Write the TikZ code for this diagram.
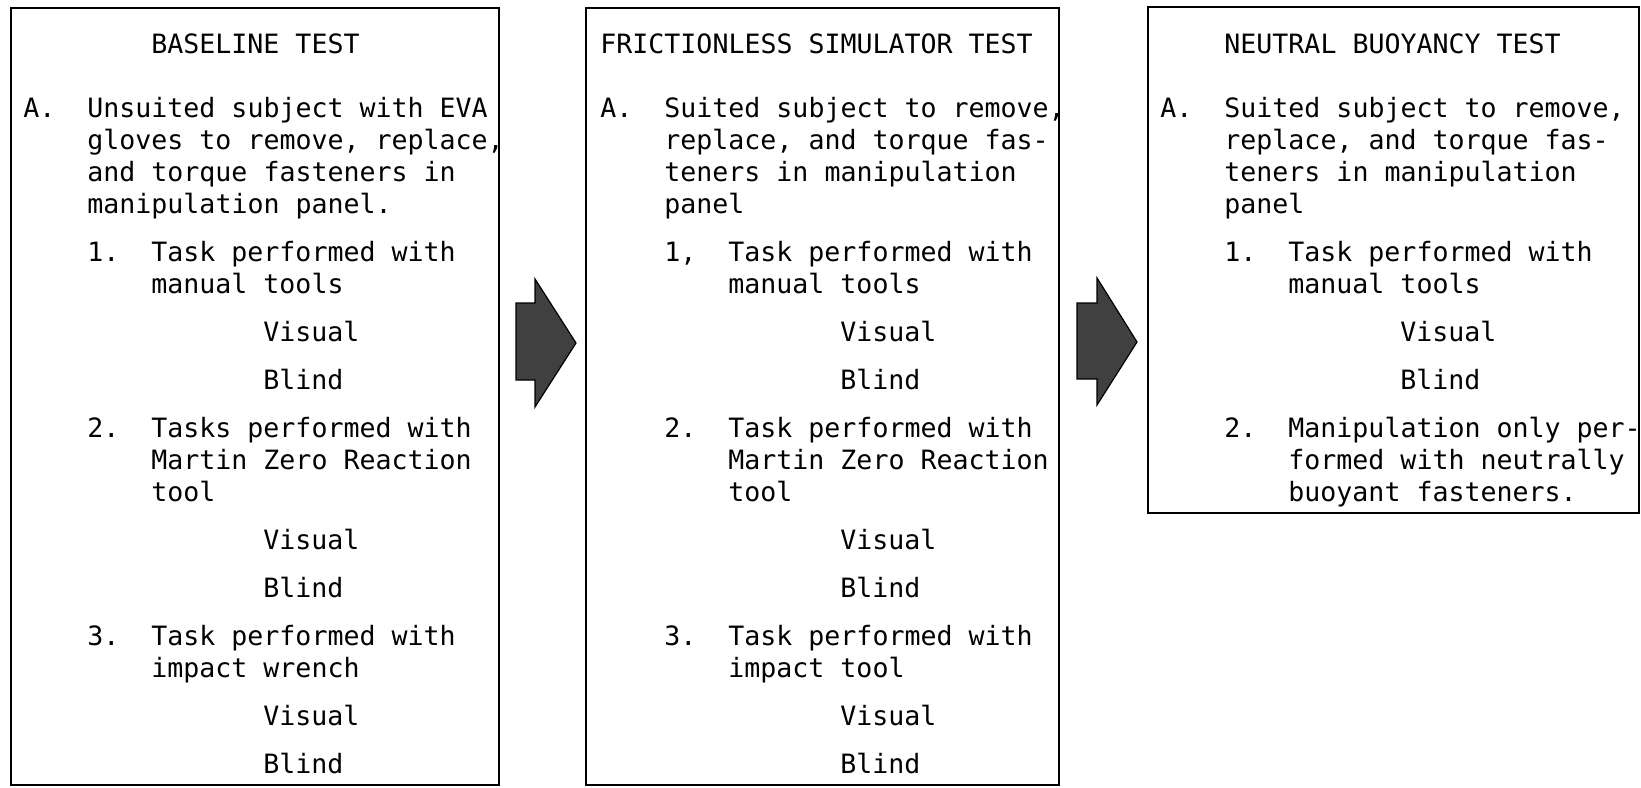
\documentclass[tikz,border=0pt]{standalone}
\usepackage{fontspec}
\setmonofont{DejaVu Sans Mono}
\tikzset{
  panel/.style={line width=1.1pt},
  txt/.style={anchor=base west, inner sep=0pt, text width=240pt,
    execute at begin node={\spaceskip=8pt\relax\xspaceskip=8pt\relax}},
  flow/.style={fill=black!75, draw=black, line width=0.6pt, line join=miter},
}
\begin{document}
\begin{tikzpicture}[x=0.5pt,y=-0.5pt,font=\ttfamily\fontsize{13.3}{16}\selectfont]
    \useasboundingbox (0,0) rectangle (1641,787);

    % baseline test
    \draw[panel] (11,8) rectangle (499,785);
    \node[txt] (bTitle) at (151,53) {BASELINE TEST};
    \node[txt] (bA) at (23,117) {A.};
    \node[txt] (bAtext) at (87,117) {Unsuited subject with EVA\\gloves to remove, replace,\\and torque fasteners in\\manipulation panel.};
    \node[txt] (bOne) at (87,261) {1.};
    \node[txt] (bOnetext) at (151,261) {Task performed with\\manual tools};
    \node[txt] (bVisOne) at (263,341) {Visual};
    \node[txt] (bBliOne) at (263,389) {Blind};
    \node[txt] (bTwo) at (87,437) {2.};
    \node[txt] (bTwotext) at (151,437) {Tasks performed with\\Martin Zero Reaction\\tool};
    \node[txt] (bVisTwo) at (263,549) {Visual};
    \node[txt] (bBliTwo) at (263,597) {Blind};
    \node[txt] (bThree) at (87,645) {3.};
    \node[txt] (bThreetext) at (151,645) {Task performed with\\impact wrench};
    \node[txt] (bVisThree) at (263,725) {Visual};
    \node[txt] (bBliThree) at (263,773) {Blind};

    % frictionless simulator test
    \draw[panel] (586,8) rectangle (1059,785);
    \node[txt] (fTitle) at (600,53) {FRICTIONLESS SIMULATOR TEST};
    \node[txt] (fA) at (600,117) {A.};
    \node[txt] (fAtext) at (664,117) {Suited subject to remove,\\replace, and torque fas-\\teners in manipulation\\panel};
    \node[txt] (fOne) at (664,261) {1,};
    \node[txt] (fOnetext) at (728,261) {Task performed with\\manual tools};
    \node[txt] (fVisOne) at (840,341) {Visual};
    \node[txt] (fBliOne) at (840,389) {Blind};
    \node[txt] (fTwo) at (664,437) {2.};
    \node[txt] (fTwotext) at (728,437) {Task performed with\\Martin Zero Reaction\\tool};
    \node[txt] (fVisTwo) at (840,549) {Visual};
    \node[txt] (fBliTwo) at (840,597) {Blind};
    \node[txt] (fThree) at (664,645) {3.};
    \node[txt] (fThreetext) at (728,645) {Task performed with\\impact tool};
    \node[txt] (fVisThree) at (840,725) {Visual};
    \node[txt] (fBliThree) at (840,773) {Blind};

    % neutral buoyancy test
    \draw[panel] (1148,7) rectangle (1639,513);
    \node[txt] (nTitle) at (1224,53) {NEUTRAL BUOYANCY TEST};
    \node[txt] (nA) at (1160,117) {A.};
    \node[txt] (nAtext) at (1224,117) {Suited subject to remove,\\replace, and torque fas-\\teners in manipulation\\panel};
    \node[txt] (nOne) at (1224,261) {1.};
    \node[txt] (nOnetext) at (1288,261) {Task performed with\\manual tools};
    \node[txt] (nVisOne) at (1400,341) {Visual};
    \node[txt] (nBliOne) at (1400,389) {Blind};
    \node[txt] (nTwo) at (1224,437) {2.};
    \node[txt] (nTwotext) at (1288,437) {Manipulation only per-\\formed with neutrally\\buoyant fasteners.};

    % arrows between the tests
    \coordinate (arrA) at (516,303);
    \coordinate (arrB) at (1077,303);
    \filldraw[flow] (arrA) -- ++(19,0) -- ++(0,-24) -- ++(41,64) -- ++(-41,64) -- ++(0,-27) -- ++(-19,0) -- cycle;
    \filldraw[flow] (arrB) -- ++(20,0) -- ++(0,-25) -- ++(40,64) -- ++(-40,63) -- ++(0,-26) -- ++(-20,0) -- cycle;
\end{tikzpicture}
\end{document}
